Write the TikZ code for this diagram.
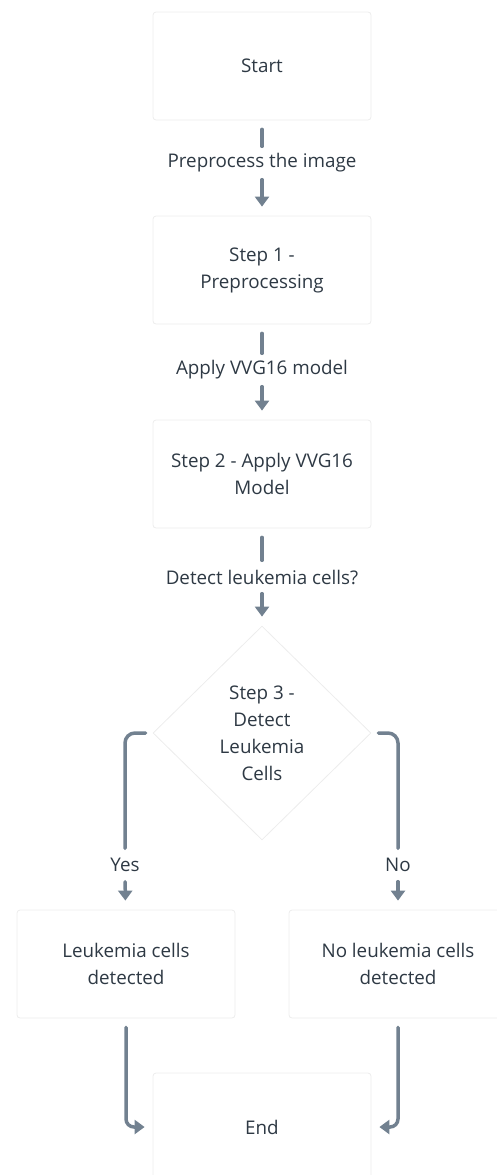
\documentclass[tikz,border=0pt]{standalone}
\usepackage{fontspec}
\setmainfont{Open Sans}
\usetikzlibrary{arrows.meta,shapes.geometric}
\definecolor{txt}{HTML}{2E3944}
\definecolor{ln}{HTML}{728190}
\definecolor{bd}{HTML}{EDEDED}
\begin{document}
\begin{tikzpicture}[x=1pt,y=-1pt,
  font=\fontsize{18.8}{27}\selectfont, text=txt,
  box/.style={rectangle, draw=bd, line width=0.8pt, fill=white, rounded corners=3pt,
    minimum width=218pt, minimum height=108pt, align=center, inner sep=0pt},
  dia/.style={diamond, draw=bd, line width=0.8pt, fill=white,
    minimum width=218pt, minimum height=214pt, align=center, inner sep=0pt},
  lbl/.style={inner sep=0pt, minimum height=30pt},
  stub/.style={draw=ln, line width=3.5pt, line cap=round},
  arr/.style={stub, -{Triangle[width=14pt,length=10pt]}},
]
\useasboundingbox (0,0) rectangle (497,1175);
\node[box] (start) at (262,66) {Start};
\node[lbl] (l1) at (262,163) {Preprocess the image};
\node[box] (s1) at (262,270) {Step 1 -\\Preprocessing};
\node[lbl] (l2) at (262,370) {Apply VVG16 model};
\node[box] (s2) at (262,474) {Step 2 - Apply VVG16\\Model};
\node[lbl] (l3) at (262,577) {Detect leukemia cells?};
\node[dia] (d) at (262,733) {Step 3 -\\Detect\\Leukemia\\Cells};
\node[lbl] (yes) at (125,865) {Yes};
\node[lbl] (no) at (398,865) {No};
\node[box] (lb) at (126,964) {Leukemia cells\\detected};
\node[box] (rb) at (398,964) {No leukemia cells\\detected};
\node[box] (end) at (262,1127) {End};

\draw[stub, shorten <=9pt, shorten >=1.5pt] (start) -- (l1);
\draw[arr, shorten <=1.5pt, shorten >=9pt] (l1) -- (s1);
\draw[stub, shorten <=9pt, shorten >=1.5pt] (s1) -- (l2);
\draw[arr, shorten <=1.5pt, shorten >=9pt] (l2) -- (s2);
\draw[stub, shorten <=9pt, shorten >=1.5pt] (s2) -- (l3);
\draw[arr, shorten <=1.5pt, shorten >=9pt] (l3) -- (d);
\draw[stub, rounded corners=10pt, shorten <=7pt, shorten >=1.5pt] (d.west) -| (yes.north);
\draw[stub, rounded corners=10pt, shorten <=7pt, shorten >=1.5pt] (d.east) -| (no.north);
\draw[arr, shorten <=1.5pt, shorten >=9pt] (yes) -- (lb);
\draw[arr, shorten <=1.5pt, shorten >=9pt] (no) -- (rb);
\draw[arr, rounded corners=8pt, shorten <=9pt, shorten >=8pt] (lb.south) |- (end.west);
\draw[arr, rounded corners=8pt, shorten <=9pt, shorten >=8pt] (rb.south) |- (end.east);
\end{tikzpicture}
\end{document}
